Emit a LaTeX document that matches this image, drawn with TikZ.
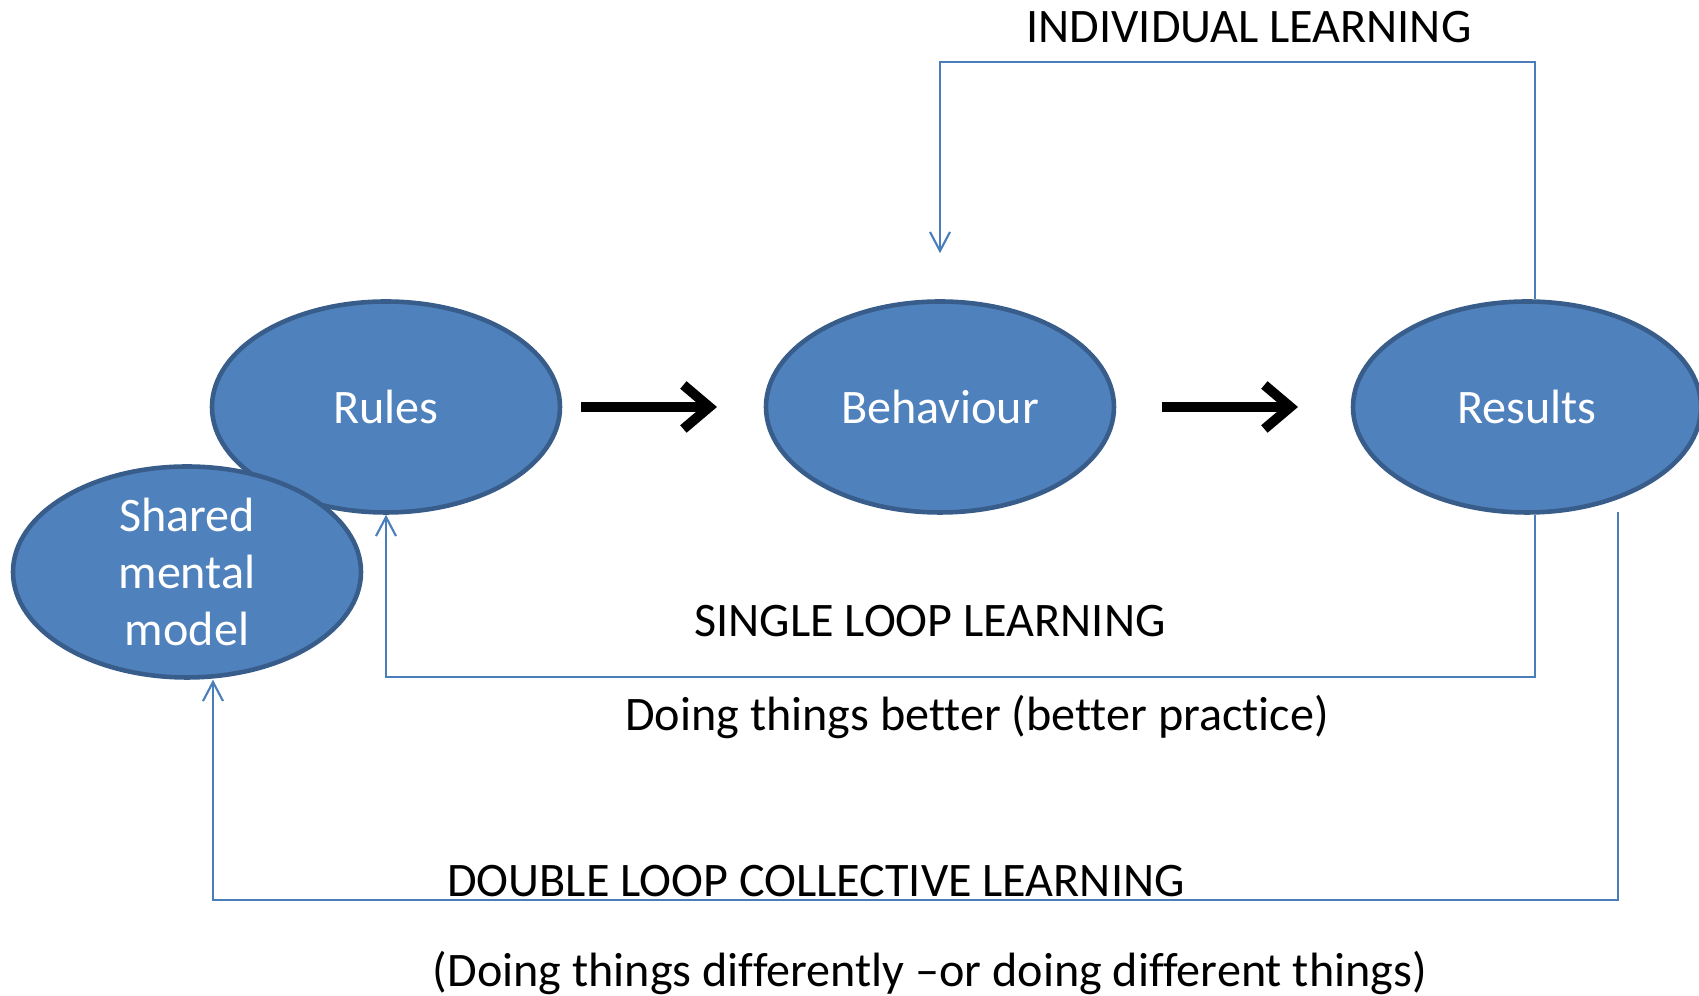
\documentclass[tikz,border=0pt]{standalone}
\usepackage{fontspec}
\setmainfont{Carlito}[Ligatures = NoCommon]
\usepackage{tikz}
\usetikzlibrary{shapes.geometric, arrows.meta}

\definecolor{ovalfill}{HTML}{4F81BD}
\definecolor{ovaledge}{HTML}{385D8A}
\definecolor{loopblue}{HTML}{4A7EBB}

\tikzset{
	oval/.style = {ellipse, draw = ovaledge, line width = 1.3pt, fill = ovalfill,
		minimum width = 3.48cm, minimum height = 2.11cm, inner sep = 0pt,
		text = white, font = \fontsize{13.7}{16.2}\selectfont, align = center},
	lbl/.style = {font = \fontsize{13.7}{16.2}\selectfont, text = black, inner sep = 0pt},
	bigarrow/.style = {line width = 2.8pt, -{Straight Barb[length = 2.6mm, width = 4.4mm]}},
	loopline/.style = {draw = loopblue, line width = 0.6pt, -{Straight Barb[length = 1.9mm, width = 2mm]}}
}

\begin{document}
\begin{tikzpicture}
			\useasboundingbox (0,0) rectangle (16.99,9.96);

			\def\H{5.89};

			% ovals
			\node [oval] (rules) at (3.86,\H) {Rules};
			\node [oval] (behav) at (9.40,\H) {Behaviour};
			\node [oval] (results) at (15.27,\H) {Results};
			\node [oval] (smm) at (1.87,4.24) {Shared\\mental\\model};

			% main flow
			\coordinate (a1s) at (5.81,\H);
			\coordinate (a1e) at (7.17,\H);
			\coordinate (a2s) at (11.62,\H);
			\coordinate (a2e) at (12.98,\H);
			\draw [bigarrow] (a1s) -- (a1e);
			\draw [bigarrow] (a2s) -- (a2e);

			% loops
			\draw [loopline] ([xshift = 0.08cm]results.north) -- ++(0,2.37) -| ([yshift = 0.46cm]behav.north);
			\draw [loopline] ([xshift = 0.08cm]results.south) -- ++(0,-1.62) -| (rules.south);
			\coordinate (dbl) at (16.18,4.84);
			\draw [loopline] (dbl) -- ++(0,-3.88) -| ([xshift = 0.26cm]smm.south);

			% labels
			\node [lbl] (ind) at (12.49,9.69) {INDIVIDUAL LEARNING};
			\node [lbl] (sgl) at (9.30,3.75) {SINGLE LOOP LEARNING};
			\node [lbl] (sglsub) at (9.77,2.79) {Doing things better (better practice)};
			\node [lbl] (dbll) at (8.16,1.15) {DOUBLE LOOP COLLECTIVE LEARNING};
			\node [lbl] (dblsub) at (9.30,0.23) {(Doing things differently –or doing different things)};
		\end{tikzpicture}
\end{document}
